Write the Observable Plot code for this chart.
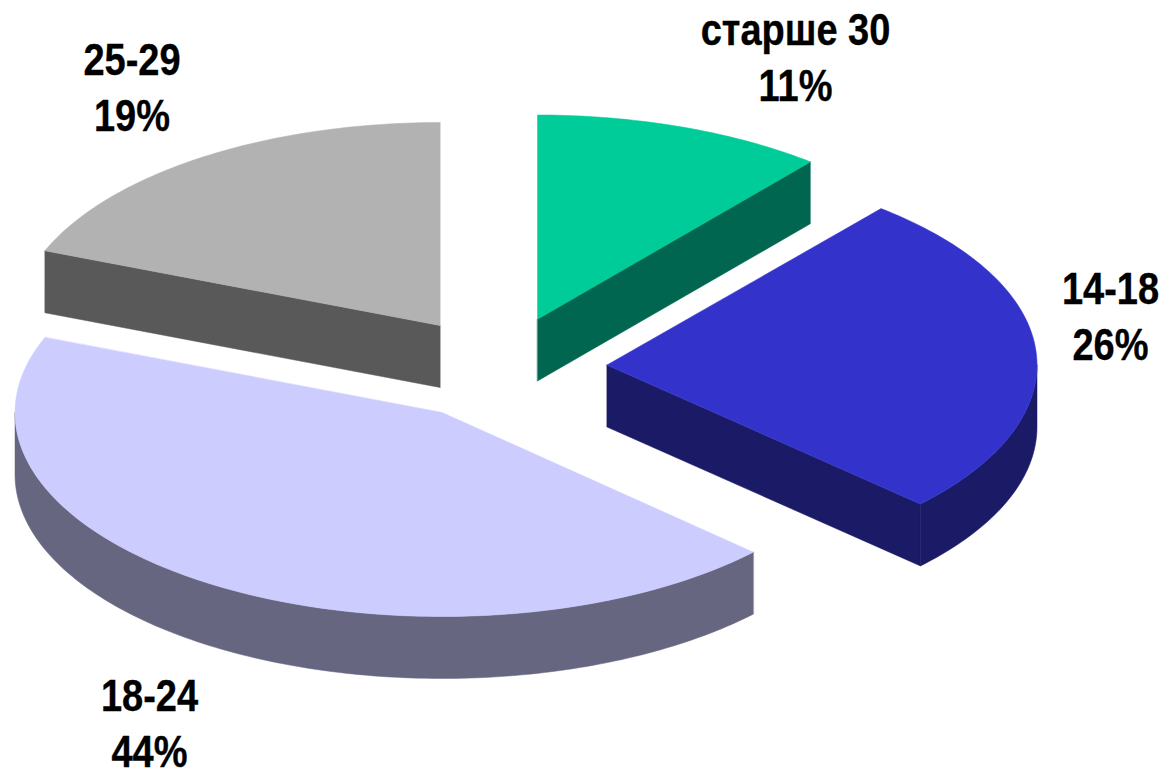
<!DOCTYPE html>
<html><head><meta charset="utf-8">
<script src="https://cdn.jsdelivr.net/npm/d3@7"></script>
<script src="https://cdn.jsdelivr.net/npm/@observablehq/plot@0.6"></script>
<style>html,body{margin:0;padding:0;background:#fff}svg{display:block}</style>
</head><body><div id="chart"></div>
<script>
const categories = ["старше 30", "14-18", "18-24", "25-29"];
const shares = [11, 26, 44, 19];
const topColors = ["#00cc99", "#3333cc", "#ccccff", "#b2b2b2"];
const sideColors = ["#006650", "#1a1a66", "#666680", "#595959"];

// layout of the exploded pie
const apexX = [537, 606.5, 441.5, 439.5];
const apexY = [318.5, 364.5, 412, 325];
const radiusX = [428, 430, 427, 425];
const radiusY = [204, 203, 204, 203];
const labelX = [795, 1110, 149, 131.5];
const labelY = [30, 289, 696, 60];
const labelGap = 56.5, depth = 62, stretch = 1.17;

const rad = d => d * Math.PI / 180;
const total = d3.sum(shares);
let acc = 0;
const slices = categories.map((name, i) => {
  const a0 = acc / total * 360; acc += shares[i];
  return {name, i, a0, a1: acc / total * 360};
});
const pt = (s, t, dz = 0) => [apexX[s.i] + radiusX[s.i] * Math.sin(rad(t)), apexY[s.i] - radiusY[s.i] * Math.cos(rad(t)) + dz];
const arc = (s, t0, t1, dz = 0) => {
  const n = Math.max(2, Math.ceil(Math.abs(t1 - t0)));
  return d3.range(n + 1).map(k => pt(s, t0 + (t1 - t0) * k / n, dz));
};
const polys = [];
const add = (coords, fill) => polys.push({id: polys.length, coords, fill});
slices.forEach(s => {
  const apex = [apexX[s.i], apexY[s.i]];
  const apexLow = [apex[0], apex[1] + depth];
  if (s.a1 > 0 && s.a1 < 180)
    add([apex, pt(s, s.a1), pt(s, s.a1, depth), apexLow], sideColors[s.i]);
  if (s.a0 > 180 && s.a0 < 360)
    add([apex, pt(s, s.a0), pt(s, s.a0, depth), apexLow], sideColors[s.i]);
  const w0 = Math.max(s.a0, 90), w1 = Math.min(s.a1, 270);
  if (w1 > w0)
    add([...arc(s, w0, w1), ...arc(s, w1, w0, depth)], sideColors[s.i]);
  add([apex, ...arc(s, s.a0, s.a1)], topColors[s.i]);
});
const rows = polys.flatMap(p => p.coords.map(c => ({id: p.id, x: c[0], y: c[1], fill: p.fill})));
const labels = slices.flatMap(s => [
  {x: labelX[s.i], y: labelY[s.i], text: s.name},
  {x: labelX[s.i], y: labelY[s.i] + labelGap, text: shares[s.i] + "%"}
]);

const plot = Plot.plot({
  width: 1164, height: 770, margin: 0,
  x: {domain: [0, 1164], range: [0, 1164], axis: null},
  y: {domain: [0, 770], range: [0, 770], axis: null},
  marks: [
    Plot.line(rows, {x: "x", y: "y", z: "id", fill: "fill", stroke: "fill", strokeWidth: 0.5, curve: "linear-closed"}),
    Plot.text(labels, {x: "x", y: "y", text: "text", fontFamily: "Liberation Sans", fontWeight: "bold", fontSize: 38, fill: "#000", stroke: "#000", strokeWidth: 0.3, textAnchor: "middle", className: "lbl"})
  ]
});
d3.select(plot).selectAll(".lbl text").attr("transform", function () {
  return this.getAttribute("transform") + ` scale(1,${stretch})`;
});
document.getElementById("chart").appendChild(plot);
</script></body></html>
